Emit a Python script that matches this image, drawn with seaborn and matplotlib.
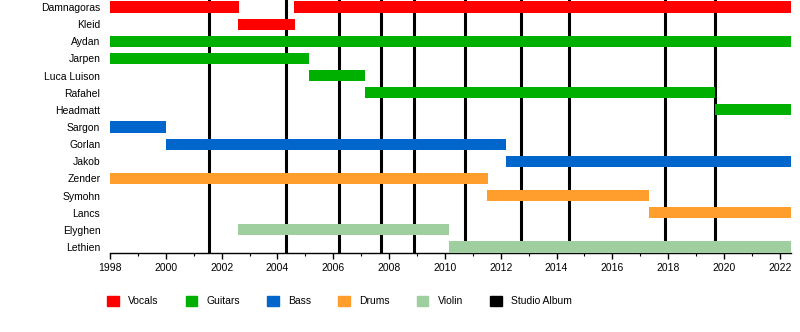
import matplotlib
matplotlib.use("Agg")
import matplotlib.pyplot as plt
import matplotlib.patches as mpatches
import seaborn as sns
import pandas as pd

members = ["Damnagoras", "Kleid", "Aydan", "Jarpen", "Luca Luison", "Rafahel", "Headmatt",
           "Sargon", "Gorlan", "Jakob", "Zender", "Symohn", "Lancs", "Elyghen", "Lethien"]

# stints: member, role, start, end
stint_member = ["Damnagoras", "Damnagoras", "Kleid", "Aydan", "Jarpen", "Luca Luison", "Rafahel",
                "Headmatt", "Sargon", "Gorlan", "Jakob", "Zender", "Symohn", "Lancs", "Elyghen", "Lethien"]
stint_role = ["Vocals", "Vocals", "Vocals", "Guitars", "Guitars", "Guitars", "Guitars",
              "Guitars", "Bass", "Bass", "Bass", "Drums", "Drums", "Drums", "Violin", "Violin"]
stint_start = [1998.0, 2004.6, 2002.6, 1998.0, 1998.0, 2005.12, 2007.12,
               2019.68, 1998.0, 2000.0, 2012.2, 1998.0, 2011.52, 2017.3, 2002.6, 2010.13]
stint_end = [2002.62, 2022.4, 2004.63, 2022.4, 2005.13, 2007.12, 2019.68,
             2022.4, 2000.0, 2012.2, 2022.4, 2011.53, 2017.3, 2022.4, 2010.14, 2022.4]

album_years = [2001.56, 2004.31, 2006.21, 2007.71, 2008.90, 2010.73,
               2012.72, 2014.43, 2017.90, 2019.68]

roles = ["Vocals", "Guitars", "Bass", "Drums", "Violin", "Studio Album"]
role_colors = ["#ff0000", "#00b000", "#0066cc", "#ff9e2c", "#9fcf9f", "#000000"]

sns.set_theme(style="white")
plt.rcParams["font.family"] = ["Liberation Sans", "DejaVu Sans"]
plt.rcParams["text.color"] = "black"
plt.rcParams["xtick.color"] = "black"
plt.rcParams["ytick.color"] = "black"

df = pd.DataFrame({"member": stint_member, "role": stint_role,
                   "start": stint_start, "end": stint_end})
palette = dict(zip(roles, sns.color_palette(role_colors)))

fig = plt.figure(figsize=(8, 3.32), dpi=100)
ax = fig.add_axes([110 / 800, 1 - 253 / 332, 681 / 800, 253 / 332])

ypos = {m: i for i, m in enumerate(members)}
for _, r in df.iterrows():
    ax.barh(ypos[r["member"]], r["end"] - r["start"], left=r["start"], height=0.65,
            color=palette[r["role"]], zorder=3, linewidth=0)

for yr in album_years:
    ax.axvline(yr, color="black", lw=2.2, zorder=2)

ax.set_xlim(1998, 2022.4)
ax.set_ylim(14.35, -0.41)
ax.set_yticks(range(len(members)))
ax.set_yticklabels(members, fontsize=7.5)
ax.set_xticks(range(1998, 2023, 2))
ax.set_xticks(range(1998, 2023), minor=True)
ax.tick_params(axis="x", which="major", length=4, width=1, color="black", labelsize=7.5, pad=3, bottom=True)
ax.tick_params(axis="x", which="minor", length=2.5, width=0.8, color="black", bottom=True)
ax.tick_params(axis="y", length=0, pad=7)
for s in ["top", "right", "left"]:
    ax.spines[s].set_visible(False)
ax.spines["bottom"].set_color("black")
ax.spines["bottom"].set_linewidth(1)
ax.grid(False)

handles = [mpatches.Patch(color=palette[r], label=r) for r in roles]
fig.legend(handles=handles, loc="center left", bbox_to_anchor=(98 / 800, 1 - 301 / 332),
           ncol=6, frameon=False, fontsize=7.5, handlelength=1.1, handleheight=1.1,
           handletextpad=0.9, columnspacing=2.6)

fig.savefig("out.png", dpi=100)
